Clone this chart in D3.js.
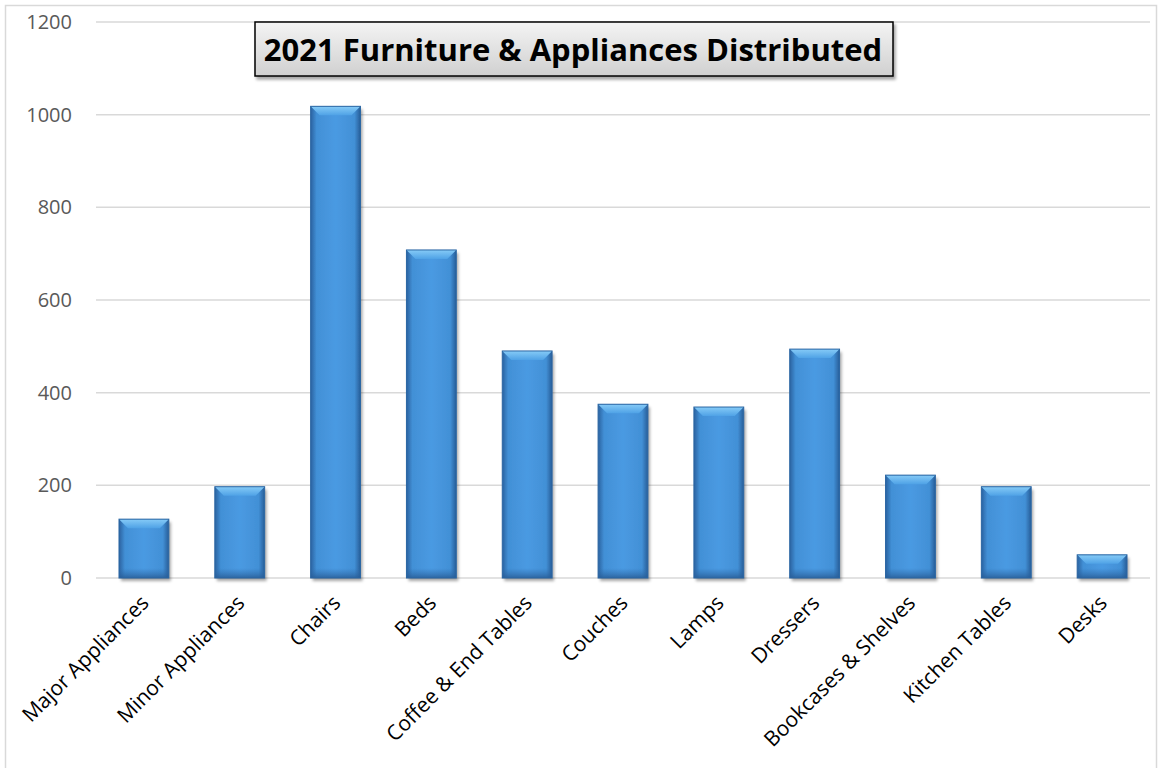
<!DOCTYPE html>
<html>
<head>
<meta charset="utf-8">
<script src="https://cdn.jsdelivr.net/npm/d3@7"></script>
<style>
  body { margin: 0; background: #fff; }
  svg { display: block; }
</style>
</head>
<body>
<svg id="chart" width="1162" height="768"></svg>
<script>

// chart data
var categories = ['Major Appliances','Minor Appliances','Chairs','Beds','Coffee & End Tables',
                  'Couches','Lamps','Dressers','Bookcases & Shelves','Kitchen Tables','Desks'];
var values = [127, 197, 1018, 708, 490, 375, 369, 494, 222, 197, 50];
var yTicks = [0, 200, 400, 600, 800, 1000, 1200];
var title = '2021 Furniture & Appliances Distributed';

//--------------------------------------------------

var width = 1162;
var height = 768;
var plotLeft = 96;
var plotRight = 1150;
var plotTop = 22;
var plotBottom = 578;

var svg = d3.select('#chart');
var defs = svg.append('defs');

// horizontal shading for bar body
var gradSide = defs.append('linearGradient')
        .attr('id','barSide')
        .attr('x1','0').attr('x2','1').attr('y1','0').attr('y2','0');
gradSide.append('stop').attr('offset','0%').attr('stop-color','#2a62a0');
gradSide.append('stop').attr('offset','12%').attr('stop-color','#4290d6');
gradSide.append('stop').attr('offset','50%').attr('stop-color','#4a9ae2');
gradSide.append('stop').attr('offset','88%').attr('stop-color','#4290d6');
gradSide.append('stop').attr('offset','100%').attr('stop-color','#275d98');

var gradTop = defs.append('linearGradient')
        .attr('id','barTop')
        .attr('x1','0').attr('x2','0').attr('y1','0').attr('y2','1');
gradTop.append('stop').attr('offset','0%').attr('stop-color','#86cbf7');
gradTop.append('stop').attr('offset','100%').attr('stop-color','#4fa2e6');

var gradBottom = defs.append('linearGradient')
        .attr('id','barBottom')
        .attr('x1','0').attr('x2','0').attr('y1','0').attr('y2','1');
gradBottom.append('stop').attr('offset','0%').attr('stop-color','#2f6eb0').attr('stop-opacity',0);
gradBottom.append('stop').attr('offset','100%').attr('stop-color','#285c95').attr('stop-opacity',0.85);

var gradTitle = defs.append('linearGradient')
        .attr('id','titleFill')
        .attr('x1','0').attr('x2','0').attr('y1','0').attr('y2','1');
gradTitle.append('stop').attr('offset','0%').attr('stop-color','#f4f4f4');
gradTitle.append('stop').attr('offset','100%').attr('stop-color','#d0d0d0');

var shadow = defs.append('filter').attr('id','shadow')
        .attr('x','-10%').attr('y','-10%').attr('width','130%').attr('height','140%');
shadow.append('feDropShadow')
        .attr('dx',2).attr('dy',3).attr('stdDeviation',1.5)
        .attr('flood-color','#000').attr('flood-opacity',0.35);

// outer frame
svg.append('rect')
    .attr('x',5.5).attr('y',5.5)
    .attr('width',1151).attr('height',780)
    .attr('fill','none')
    .attr('stroke','#d9d9d9')
    .attr('stroke-width',1.5);

var x = d3.scaleBand()
        .domain(categories)
        .range([plotLeft, plotRight])
        .paddingInner(0.48)
        .paddingOuter(0.24);

var y = d3.scaleLinear()
        .domain([0, 1200])
        .range([plotBottom, plotTop]);

// gridlines
svg.append('g')
    .selectAll('line')
    .data(yTicks)
    .enter()
    .append('line')
    .attr('x1',plotLeft).attr('x2',plotRight)
    .attr('y1',function(d){ return y(d) })
    .attr('y2',function(d){ return y(d) })
    .attr('stroke','#d9d9d9')
    .attr('stroke-width',1.5);

// y axis labels
var yAxis = d3.axisLeft(y).tickValues(yTicks).tickFormat(d3.format('d')).tickSize(0).tickPadding(0);
var yg = svg.append('g')
    .attr('transform','translate(72,0)')
    .call(yAxis);
yg.select('.domain').remove();
yg.selectAll('text')
    .attr('fill','#595959')
    .style('font-family','"Open Sans", sans-serif')
    .style('font-size','20px');

// bars
var bars = svg.append('g').selectAll('.bar')
    .data(values)
    .enter()
    .append('g')
    .attr('class','bar');

bars.append('rect')
    .attr('x',function(d,i){ return x(categories[i]) })
    .attr('y',function(d){ return y(d) })
    .attr('width',x.bandwidth())
    .attr('height',function(d){ return y(0)-y(d) })
    .attr('fill','url(#barSide)')
    .attr('filter','url(#shadow)');

bars.append('rect')
    .attr('x',function(d,i){ return x(categories[i]) })
    .attr('y',function(d){ return Math.max(y(d), y(0)-10) })
    .attr('width',x.bandwidth())
    .attr('height',function(d){ return Math.min(10, y(0)-y(d)) })
    .attr('fill','url(#barBottom)');

// top bevel
bars.append('path')
    .attr('d',function(d,i){
        var x0 = x(categories[i]), x1 = x0 + x.bandwidth(), t = y(d), b = 9;
        return 'M'+x0+','+t+'L'+x1+','+t+'L'+(x1-b)+','+(t+b)+'L'+(x0+b)+','+(t+b)+'Z';
    })
    .attr('fill','url(#barTop)');

bars.append('rect')
    .attr('x',function(d,i){ return x(categories[i]) })
    .attr('y',function(d){ return y(d) })
    .attr('width',x.bandwidth())
    .attr('height',function(d){ return y(0)-y(d) })
    .attr('fill','none')
    .attr('stroke','#2b66a3')
    .attr('stroke-width',1);

// x axis labels
svg.append('g').selectAll('.xlab')
    .data(categories)
    .enter()
    .append('text')
    .attr('class','xlab')
    .attr('text-anchor','end')
    .attr('transform',function(d){
        return 'translate('+(x(d)+x.bandwidth()/2+1)+','+(plotBottom+21)+') rotate(-45)';
    })
    .attr('dy','0.35em')
    .style('font-family','"Open Sans", sans-serif')
    .style('font-size','21px')
    .attr('fill','#000')
    .text(function(d){ return d });

// title box
var tg = svg.append('g');
tg.append('rect')
    .attr('x',255).attr('y',22)
    .attr('width',638).attr('height',54)
    .attr('fill','url(#titleFill)')
    .attr('stroke','#000')
    .attr('stroke-width',1.5)
    .attr('filter','url(#shadow)');
tg.append('text')
    .attr('x',573).attr('y',50)
    .attr('text-anchor','middle')
    .attr('dy','0.36em')
    .style('font-family','"Open Sans", sans-serif')
    .style('font-weight','bold')
    .style('font-size','31px')
    .attr('fill','#000')
    .text(title);

</script>
</body>
</html>
